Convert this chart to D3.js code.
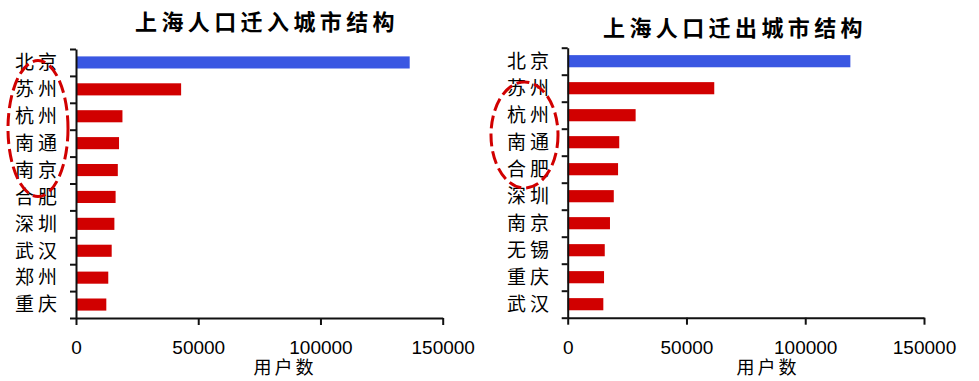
<!DOCTYPE html>
<html><head><meta charset="utf-8">
<script src="https://cdn.jsdelivr.net/npm/d3@7"></script>
<style>
html,body{margin:0;padding:0;background:#fff;}
svg{display:block;}
</style></head>
<body>
<svg id="chart" width="979" height="381"></svg>
<script>
const inCities = ["北京","苏州","杭州","南通","南京","合肥","深圳","武汉","郑州","重庆"];
const inValues = [136500,43000,19000,17600,17100,16200,15700,14600,13200,12400];
const outCities = ["北京","苏州","杭州","南通","合肥","深圳","南京","无锡","重庆","武汉"];
const outValues = [119000,61700,28600,21700,21200,19400,17800,15600,15300,15000];
const xTicks = [0,50000,100000,150000];
const titles = ["上海人口迁入城市结构","上海人口迁出城市结构"];
const xTitle = "用户数";

const svg = d3.select("#chart");
const BLUE = "#3a57e2", RED = "#d10000";
const CJK = "'Noto Sans CJK SC', sans-serif";

function drawChart(cfg){
  const g = svg.append("g");
  const x = d3.scaleLinear().domain([0,150000]).range([cfg.x0, cfg.x1]);
  const y = d3.scaleBand().domain(cfg.cats).range([cfg.y0, cfg.y1]).paddingInner(0.55).paddingOuter(0.275);
  const yIdx = d3.scaleLinear().domain([0, cfg.cats.length]).range([cfg.y0, cfg.y1]);

  // bars
  g.selectAll("rect.bar").data(cfg.vals).join("rect")
    .attr("x", x(0))
    .attr("y", (d,i)=>y(cfg.cats[i]))
    .attr("width", d=>x(d)-x(0))
    .attr("height", y.bandwidth())
    .attr("fill", (d,i)=> i===0 ? BLUE : RED);

  // y axis (ticks at band boundaries)
  const yAx = g.append("g").attr("transform", `translate(${x(0)},0)`)
    .call(d3.axisLeft(yIdx).tickValues(d3.range(cfg.cats.length+1)).tickFormat("").tickSizeInner(6).tickSizeOuter(0));
  yAx.selectAll("path,line").attr("stroke","#111").attr("stroke-width",2);

  // x axis
  const xAx = g.append("g").attr("transform", `translate(0,${cfg.y1})`)
    .call(d3.axisBottom(x).tickValues(xTicks).tickFormat(d3.format("d")).tickSizeInner(7).tickSizeOuter(0).tickPadding(16));
  xAx.selectAll("path,line").attr("stroke","#111").attr("stroke-width",2);
  xAx.selectAll("text").attr("font-family","'Liberation Sans', Arial, sans-serif")
    .attr("font-size",19).attr("fill","#000");

  // category labels
  g.selectAll("text.cat").data(cfg.cats).join("text")
    .attr("class","cat")
    .attr("x", cfg.labelX)
    .attr("y", d=>y(d)+y.bandwidth()/2)
    .attr("dy","0.36em")
    .attr("text-anchor","start")
    .attr("font-family",CJK).attr("font-size",19).attr("letter-spacing",4)
    .attr("fill","#000")
    .text(d=>d);

  // title
  g.append("text").attr("x", cfg.titleX).attr("y", cfg.titleY)
    .attr("text-anchor","middle").attr("font-family",CJK).attr("font-weight","bold")
    .attr("font-size",22).attr("letter-spacing",4.4).attr("fill","#000")
    .text(cfg.title);

  // axis title
  g.append("text").attr("x", cfg.xtX).attr("y", 374)
    .attr("text-anchor","middle").attr("font-family",CJK)
    .attr("font-size",18).attr("letter-spacing",3).attr("fill","#000")
    .text(xTitle);

  // dashed ellipse
  g.append("ellipse").attr("cx",cfg.ell[0]).attr("cy",cfg.ell[1]).attr("rx",cfg.ell[2]).attr("ry",cfg.ell[3])
    .attr("fill","none").attr("stroke",RED).attr("stroke-width",3).attr("stroke-dasharray","13 5");
}

drawChart({cats:inCities, vals:inValues, x0:76, x1:442.7, y0:49, y1:318,
  labelX:15, titleX:267, titleY:30, title:titles[0], xtX:285, ell:[38,128.5,30,68]});
drawChart({cats:outCities, vals:outValues, x0:567.7, x1:924, y0:47.7, y1:317.7,
  labelX:507, titleX:735, titleY:36, title:titles[1], xtX:768, ell:[524.5,135,33.5,53]});
</script>
</body></html>
